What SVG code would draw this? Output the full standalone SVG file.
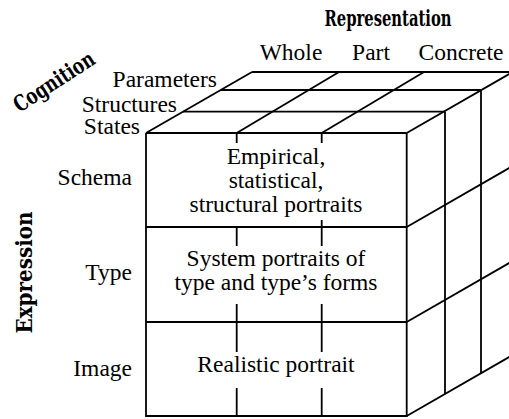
<svg xmlns="http://www.w3.org/2000/svg" width="509" height="419" viewBox="0 0 509 419">
<style>
.ln{stroke:#000;stroke-width:1.8;fill:none;stroke-linecap:butt}
.hv{stroke:#000;stroke-width:2.2;fill:none}
.t{font-family:"Liberation Serif","Times New Roman",serif;font-size:23.5px;fill:#000}
.m{text-anchor:middle}
.e{text-anchor:end}
.b{font-family:"DejaVu Serif","Liberation Serif",serif;font-weight:bold;fill:#000}
</style>
<rect width="509" height="419" fill="#fff"/>
<g id="axis-titles">
<text class="b m" x="388" y="26" font-size="22" textLength="127" lengthAdjust="spacingAndGlyphs">Representation</text>
<text class="b m" font-size="22" textLength="92" lengthAdjust="spacingAndGlyphs" transform="translate(58,88) rotate(-33)">Cognition</text>
<text class="b m" font-size="22" textLength="122" lengthAdjust="spacingAndGlyphs" transform="translate(32,272.5) rotate(-90)">Expression</text>
</g>
<g id="column-labels">
<text class="t m" x="291" y="60">Whole</text>
<text class="t m" x="371" y="60">Part</text>
<text class="t m" x="461" y="60">Concrete</text>
</g>
<g id="layer-labels">
<text class="t e" x="217" y="87">Parameters</text>
<text class="t e" x="177" y="112">Structures</text>
<text class="t e" x="140" y="134">States</text>
</g>
<g id="row-labels">
<text class="t e" x="132" y="185">Schema</text>
<text class="t e" x="132" y="280">Type</text>
<text class="t e" x="132" y="376">Image</text>
</g>
<g id="connectors">
<g id="top-face">
<line class="ln" x1="146" y1="133" x2="252" y2="72"/>
<line class="ln" x1="236.7" y1="133" x2="339" y2="72"/>
<line class="ln" x1="321.7" y1="133" x2="424" y2="72"/>
<line class="ln" x1="406.7" y1="133" x2="512.7" y2="72"/>
<line class="ln" x1="183" y1="111.7" x2="445" y2="111.7"/>
<line class="ln" x1="220.8" y1="90" x2="481" y2="90"/>
<line class="ln" x1="252" y1="72" x2="512" y2="72"/>
</g>
<g id="right-face">
<line class="ln" x1="445" y1="111.7" x2="445" y2="394"/>
<line class="ln" x1="481" y1="90" x2="481" y2="373.5"/>
<line class="ln" x1="406.7" y1="227" x2="515" y2="164.7"/>
<line class="ln" x1="406.7" y1="322" x2="515" y2="259.7"/>
<line class="ln" x1="406.7" y1="416" x2="515" y2="353.7"/>
</g>
<g id="front-face">
<line class="ln" x1="146" y1="133" x2="146" y2="417"/>
<line class="ln" x1="406.7" y1="133" x2="406.7" y2="417"/>
<line class="hv" x1="146" y1="133" x2="406.7" y2="133"/>
<line class="hv" x1="146" y1="227" x2="406.7" y2="227"/>
<line class="hv" x1="146" y1="322" x2="406.7" y2="322"/>
<line class="hv" x1="146" y1="416" x2="406.7" y2="416"/>
<line class="ln" x1="236.7" y1="133" x2="236.7" y2="143"/>
<line class="ln" x1="321.7" y1="133" x2="321.7" y2="143"/>
<line class="ln" x1="236.7" y1="227" x2="236.7" y2="246"/>
<line class="ln" x1="321.7" y1="220" x2="321.7" y2="246"/>
<line class="ln" x1="236.7" y1="304" x2="236.7" y2="352"/>
<line class="ln" x1="321.7" y1="304" x2="321.7" y2="352"/>
<line class="ln" x1="236.7" y1="388" x2="236.7" y2="416"/>
<line class="ln" x1="321.7" y1="388" x2="321.7" y2="416"/>
</g>
</g>
<g id="cell-schema">
<text class="t m" x="276" y="164">Empirical,</text>
<text class="t m" x="276" y="188">statistical,</text>
<text class="t m" x="276" y="212">structural portraits</text>
</g>
<g id="cell-type">
<text class="t m" x="276" y="266">System portraits of</text>
<text class="t m" x="276" y="290">type and type’s forms</text>
</g>
<g id="cell-image">
<text class="t m" x="276" y="372">Realistic portrait</text>
</g>
</svg>
